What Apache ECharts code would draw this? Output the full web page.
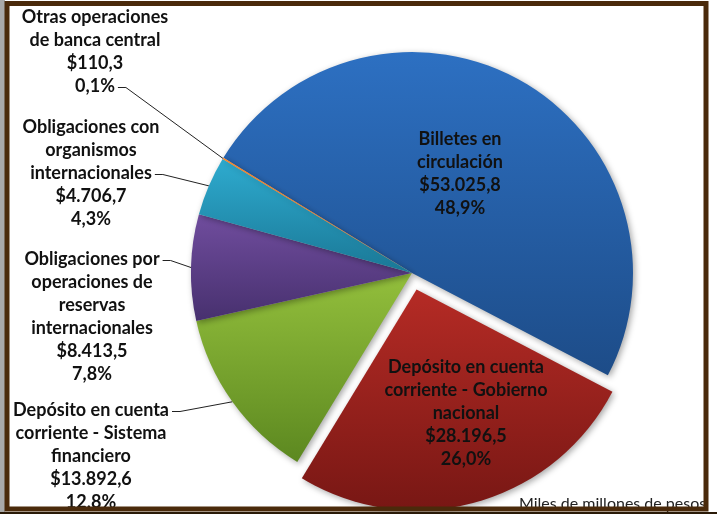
<!DOCTYPE html>
<html>
<head>
<meta charset="utf-8">
<script src="https://cdn.jsdelivr.net/npm/echarts@6/dist/echarts.min.js"></script>
<style>
html, body { margin: 0; padding: 0; background: #fff; }
#chart { width: 717px; height: 514px; }
</style>
</head>
<body>
<div id="chart"></div>
<script>
// slice names, in clockwise order from the blue slice
const names = [
  'Billetes en\ncirculación',
  'Depósito en cuenta\ncorriente - Gobierno\nnacional',
  'Depósito en cuenta\ncorriente - Sistema\nfinanciero',
  'Obligaciones por\noperaciones de\nreservas\ninternacionales',
  'Obligaciones con\norganismos\ninternacionales',
  'Otras operaciones\nde banca central'
]
const values = [53025.8, 28196.5, 13892.6, 8413.5, 4706.7, 110.3]
const unitNote = 'Miles de millones de pesos'

// look
const topColors = ['#2d70c2', '#b52b25', '#93bf3c', '#704d9e', '#2eabcf', '#f7862a']
const bottomColors = ['#1d4c88', '#781714', '#5c8820', '#47306e', '#1a7896', '#e0701a']
const labelAnchors = [[460, 128], [466, 356], [91, 399], [92, 248], [91, 116], [95, 6]]
const leaderAt = [null, null, 0, 0, 2, 3]   // text line the leader line meets
const EXPLODED = 1
const CENTER = [412, 273]
const RADIUS = 221
const START = 148.6
const PULL = 17
const FONT = 'bold 18px Lato'
const LINE_H = 23

const total = values.reduce((a, b) => a + b, 0)

function money(v) {
  const [i, d] = v.toFixed(1).split('.')
  return '$' + i.replace(/\B(?=(\d{3})+(?!\d))/g, '.') + ',' + d
}
function pct(v) {
  return (v / total * 100).toFixed(1).replace('.', ',') + '%'
}
function labelText(i) {
  return names[i] + '\n' + money(values[i]) + '\n' + pct(values[i])
}

// the pulled-out slice is drawn by a second pie moved along its mid angle
const before = values.slice(0, EXPLODED).reduce((a, b) => a + b, 0)
const mid = (START - (before + values[EXPLODED] / 2) / total * 360) * Math.PI / 180
const pulledCenter = [CENTER[0] + Math.cos(mid) * PULL, CENTER[1] - Math.sin(mid) * PULL]

const ctx = document.createElement('canvas').getContext('2d')
ctx.font = FONT

function leaderPoints(p) {
  const k = leaderAt[p.dataIndex]
  if (k == null || !p.labelLinePoints) return undefined
  const [ax, ay] = labelAnchors[p.dataIndex]
  const line = labelText(p.dataIndex).split('\n')[k]
  const ex = ax + ctx.measureText(line).width / 2 + 3
  const ey = ay + k * LINE_H + LINE_H / 2 + 1
  return [p.labelLinePoints[0], [ex + 8, ey], [ex, ey]]
}

function fill(i) {
  return new echarts.graphic.LinearGradient(0, 0, 0, 1, [
    { offset: 0, color: topColors[i] },
    { offset: 1, color: bottomColors[i] }
  ])
}

const base = {
  type: 'pie',
  radius: RADIUS,
  startAngle: START,
  clockwise: true,
  avoidLabelOverlap: false,
  emphasis: { disabled: true },
  itemStyle: {
    shadowBlur: 6,
    shadowColor: 'rgba(0,0,0,0.35)',
    shadowOffsetX: 2,
    shadowOffsetY: 2
  },
  label: {
    show: true,
    position: 'outside',
    formatter: p => labelText(p.dataIndex),
    color: '#111',
    fontFamily: 'Lato',
    fontWeight: 'bold',
    fontSize: 18,
    lineHeight: LINE_H,
    align: 'center'
  },
  labelLine: {
    show: true,
    length: 8,
    length2: 0,
    lineStyle: { color: '#222', width: 1 }
  },
  labelLayout: p => ({
    x: labelAnchors[p.dataIndex][0],
    y: labelAnchors[p.dataIndex][1],
    align: 'center',
    verticalAlign: 'top',
    labelLinePoints: leaderPoints(p)
  })
}

const hidden = { itemStyle: { color: 'rgba(0,0,0,0)', shadowColor: 'rgba(0,0,0,0)' }, label: { show: false }, labelLine: { show: false } }

const chart = echarts.init(document.getElementById('chart'))

chart.setOption({
  animation: false,
  backgroundColor: '#fff',
  series: [
    Object.assign({}, base, {
      center: CENTER,
      data: values.map((v, i) => i === EXPLODED
        ? Object.assign({ value: v, name: names[i] }, hidden)
        : {
          value: v,
          name: names[i],
          labelLine: leaderAt[i] == null ? { show: false } : undefined,
          itemStyle: { color: fill(i) }
        })
    }),
    Object.assign({}, base, {
      center: pulledCenter,
      silent: true,
      data: values.map((v, i) => i !== EXPLODED
        ? Object.assign({ value: v, name: names[i] }, hidden)
        : { value: v, name: names[i], labelLine: { show: false }, itemStyle: { color: fill(i) } })
    })
  ],
  graphic: [
    {
      type: 'text', left: 519, top: 496, z: 10,
      style: { text: unitNote, font: '16px Lato', fill: '#222' }
    },
    { type: 'rect', shape: { x: 708, y: 0, width: 9, height: 514 }, style: { fill: '#fff' }, z: 20 },
    { type: 'rect', shape: { x: 0, y: 0, width: 5, height: 514 }, style: { fill: '#a9a9a9' }, z: 20 },
    {
      type: 'rect', z: 30,
      shape: { x: 7, y: 3.5, width: 699, height: 505.5 },
      style: { fill: 'none', stroke: '#4a2a0b', lineWidth: 5 }
    },
    { type: 'rect', shape: { x: 0, y: 512, width: 717, height: 2 }, style: { fill: '#2a1a08' }, z: 20 }
  ]
})
</script>
</body>
</html>
